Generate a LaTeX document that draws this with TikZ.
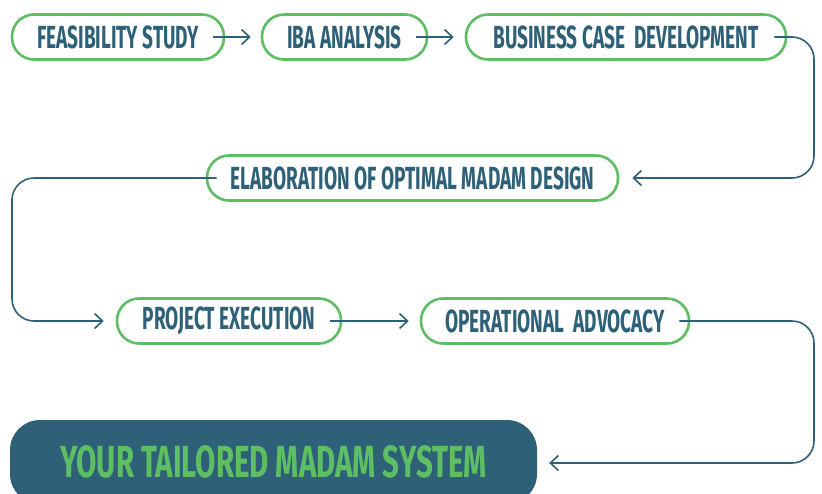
\documentclass[tikz,border=0pt]{standalone}
\usepackage{fontspec}
\newfontfamily\din{Fira Sans}[FakeStretch=0.595]
\newfontfamily\dinf{Fira Sans}[FakeStretch=0.655]
\usetikzlibrary{arrows.meta}
\definecolor{pgreen}{HTML}{5DBE63}
\definecolor{pblue}{HTML}{2E6078}
\tikzset{
  pill/.style={draw=pgreen, line width=2.6pt, rounded corners=22pt, minimum height=45pt,
    text=pblue, font=\din\bfseries\fontsize{32}{32}\selectfont, inner sep=0pt},
  final/.style={fill=pblue, rounded corners=30pt, minimum height=84pt, minimum width=527pt,
    text=pgreen, font=\dinf\bfseries\fontsize{45}{45}\selectfont, inner sep=0pt},
  conn/.style={draw=pblue, line width=1.6pt, rounded corners=22pt,
    -{Straight Barb[length=8pt,width=15pt,line width=1.6pt]}}
}
\begin{document}
\begin{tikzpicture}[x=1pt,y=-1pt]
\useasboundingbox (0,0) rectangle (822,493);
\clip (0,0) rectangle (822,493);
\node[pill, minimum width=212pt] (n1) at (118,37) {FEASIBILITY STUDY};
\node[pill, minimum width=165pt] (n2) at (344.5,37) {IBA ANALYSIS};
\node[pill, minimum width=320pt] (n3) at (626,37) {BUSINESS CASE\ \ DEVELOPMENT};
\node[pill, minimum width=411pt] (n4) at (412.5,178) {ELABORATION OF OPTIMAL MADAM DESIGN};
\node[pill, minimum width=224pt] (n5) at (229,321) {PROJECT EXECUTION};
\node[pill, minimum width=268pt] (n6) at (555,321) {OPERATIONAL\ \ ADVOCACY};
\node[final] (n7) at (273.5,462) {YOUR TAILORED MADAM SYSTEM};
\coordinate (r1) at (814,100);
\coordinate (l1) at (12,250);
\coordinate (r2) at (814,390);
\draw[conn] ([xshift=-12pt]n1.east) -- ([xshift=-10pt]n2.west);
\draw[conn] ([xshift=-12pt]n2.east) -- ([xshift=-11pt]n3.west);
\draw[conn] ([xshift=-13pt]n3.east) -| (r1) |- ([xshift=13pt]n4.east);
\draw[conn] ([xshift=11pt]n4.west) -| (l1) |- ([xshift=-12pt]n5.west);
\draw[conn] ([xshift=-12pt]n5.east) -- ([xshift=-11pt]n6.west);
\draw[conn] ([xshift=-11pt]n6.east) -| (r2) |- ([xshift=12pt,yshift=-1pt]n7.east);
\end{tikzpicture}
\end{document}
